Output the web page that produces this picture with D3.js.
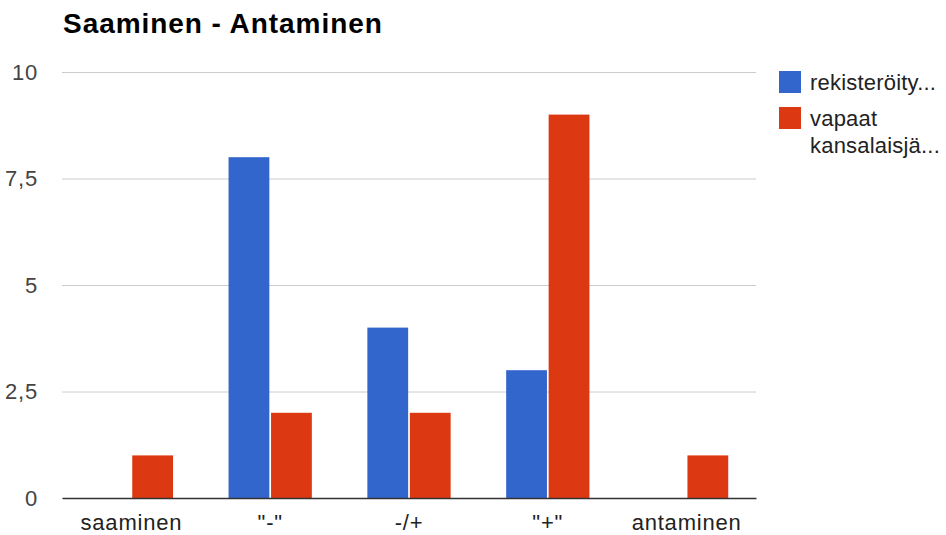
<!DOCTYPE html>
<html><head><meta charset="utf-8">
<script src="https://cdn.jsdelivr.net/npm/d3@7"></script>
<style>body{margin:0;background:#fff}svg{display:block;font-family:Arial,"Liberation Sans",sans-serif}</style>
</head><body>
<svg id="c" width="946" height="535"></svg>
<script>
const categories = ['saaminen', '"-"', '-/+', '"+"', 'antaminen'];
const seriesNames = ['rekisteröity...', 'vapaat kansalaisjä...'];
const rekisteroity = [0, 8, 4, 3, 0];
const vapaat = [1, 2, 2, 9, 1];
const yTicks = [0, 2.5, 5, 7.5, 10];
const colors = ['#3366cc', '#dc3912'];
const series = [rekisteroity, vapaat];

(function () {
const svg = d3.select('#c');
const mLeft = 62, mRight = 756, mTop = 72, mBottom = 498;
const FS = 22, LS = '0.8px';
const x0 = d3.scaleBand().domain(categories).range([mLeft, mRight]);
const x1 = d3.scaleBand().domain([0, 1]).range([x0.bandwidth() * 0.2, x0.bandwidth() * 0.8]).paddingInner(0.04);
const y = d3.scaleLinear().domain([0, 10]).range([mBottom, mTop]);
const fmt = d => String(d).replace('.', ',');

svg.append('text').attr('x', 63).attr('y', 33).attr('font-size', 28).attr('font-weight', 'bold')
  .attr('letter-spacing', '0.95px').attr('fill', '#000').text('Saaminen - Antaminen');

const ga = svg.append('g').attr('transform', `translate(${mLeft},0)`)
  .call(d3.axisLeft(y).tickValues(yTicks).tickFormat(fmt).tickSize(-(mRight - mLeft)).tickPadding(24));
ga.select('.domain').remove();
ga.selectAll('.tick line').attr('stroke', '#cccccc');
ga.selectAll('.tick text').attr('font-size', FS).attr('letter-spacing', LS).attr('fill', '#444').attr('font-family', 'Arial,"Liberation Sans",sans-serif');
ga.selectAll('.tick').filter(d => d === 0).select('line').remove();

const gb = svg.append('g');
categories.forEach((c, i) => {
  series.forEach((s, j) => {
    if (s[i] > 0) {
      gb.append('rect').attr('x', x0(c) + x1(j)).attr('width', x1.bandwidth())
        .attr('y', y(s[i])).attr('height', y(0) - y(s[i])).attr('fill', colors[j]);
    }
  });
});

const gx = svg.append('g').attr('transform', `translate(0,${mBottom})`)
  .call(d3.axisBottom(x0).tickSize(0).tickPadding(16));
gx.select('.domain').attr('stroke', '#333').attr('stroke-width', 1.5);
gx.selectAll('.tick text').attr('font-size', FS).attr('letter-spacing', LS).attr('fill', '#222').attr('font-family', 'Arial,"Liberation Sans",sans-serif');

const lg = svg.append('g').attr('font-size', FS).attr('letter-spacing', '0.2px').attr('fill', '#222');
lg.append('rect').attr('x', 779).attr('y', 71).attr('width', 22).attr('height', 22).attr('fill', colors[0]);
lg.append('text').attr('x', 810).attr('y', 90).text(seriesNames[0]);
lg.append('rect').attr('x', 779).attr('y', 107).attr('width', 22).attr('height', 22).attr('fill', colors[1]);
const t2 = lg.append('text').attr('x', 810).attr('y', 126);
t2.append('tspan').attr('x', 810).text('vapaat');
t2.append('tspan').attr('x', 810).attr('dy', 27).text('kansalaisjä...');
})();
</script>
</body></html>
